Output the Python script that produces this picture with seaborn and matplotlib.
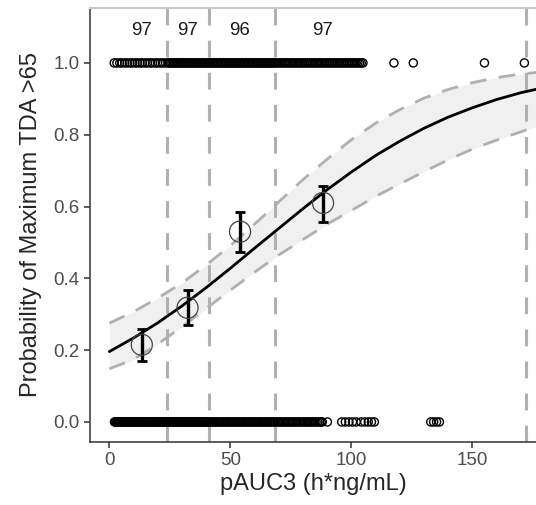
import numpy as np
import pandas as pd
import seaborn as sns
import matplotlib.pyplot as plt

x_resp1 = [2.0, 3.1, 4.3, 5.2, 6.4, 7.3, 8.5, 9.4, 10.6, 11.5, 12.7, 13.6, 14.8, 15.7, 16.9,
           17.8, 19.0, 19.9, 21.1, 22.0, 23.2,
           24.2, 24.8, 25.3, 25.9, 26.5, 27.0, 27.6, 28.1, 28.7, 29.3, 29.8, 30.4, 30.9, 31.5,
           32.1, 32.6, 33.2, 33.7, 34.3, 34.9, 35.4, 36.0, 36.5, 37.1, 37.7, 38.2, 38.8, 39.3,
           39.9, 40.5, 41.0,
           41.5, 42.0, 42.6, 43.1, 43.6, 44.2, 44.7, 45.2, 45.8, 46.3, 46.8, 47.4, 47.9, 48.4,
           49.0, 49.5, 50.0, 50.6, 51.1, 51.6, 52.2, 52.7, 53.2, 53.8, 54.3, 54.8, 55.4, 55.9,
           56.4, 57.0, 57.5, 58.0, 58.6, 59.1, 59.6, 60.2, 60.7, 61.2, 61.8, 62.3, 62.8, 63.4,
           63.9, 64.4, 65.0, 65.5, 66.0, 66.6, 67.1, 67.6, 68.2,
           68.8, 69.5, 70.2, 70.9, 71.6, 72.3, 73.0, 73.6, 74.3, 75.0, 75.7, 76.4, 77.1, 77.8,
           78.5, 79.2, 79.9, 80.6, 81.3, 82.0, 82.6, 83.3, 84.0, 84.7, 85.4, 86.1, 86.8, 87.5,
           88.2, 88.9, 89.6, 90.3, 91.0, 91.6, 92.3, 93.0, 93.7, 94.4, 95.1, 95.8, 96.5, 97.2,
           97.9, 98.6, 99.3, 100.0, 100.6, 101.3, 102.0, 102.7, 103.4, 104.1, 104.8,
           117.6, 125.6, 155.0, 171.5]
# raw observations with response 0
x_resp0 = [2.1, 2.5, 2.9, 3.3, 3.7, 4.1, 4.5, 4.9, 5.3, 5.7, 6.1, 6.5, 6.9, 7.3, 7.7, 8.1, 8.5,
           8.9, 9.3, 9.7, 10.1, 10.5, 10.9, 11.3, 11.7, 12.1, 12.5, 12.9, 13.3, 13.7, 14.1, 14.5,
           14.9, 15.3, 15.7, 16.1, 16.5, 16.9, 17.3, 17.7, 18.1, 18.5, 18.9, 19.3, 19.7, 20.1,
           20.5, 20.9, 21.3, 21.7, 22.1, 22.5, 22.9, 23.3, 23.7,
           24.1, 24.5, 24.9, 25.3, 25.7, 26.1, 26.5, 26.9, 27.3, 27.7, 28.1, 28.5, 28.9, 29.3,
           29.7, 30.1, 30.5, 30.9, 31.3, 31.7, 32.1, 32.5, 32.9, 33.3, 33.7, 34.1, 34.5, 34.9,
           35.3, 35.7, 36.1, 36.5, 36.9, 37.3, 37.7, 38.1, 38.5, 38.9, 39.3, 39.7, 40.1, 40.5,
           40.9,
           41.5, 42.1, 42.7, 43.3, 43.9, 44.5, 45.1, 45.7, 46.3, 46.9, 47.5, 48.1, 48.7, 49.3,
           49.9, 50.5, 51.1, 51.7, 52.3, 52.9, 53.5, 54.1, 54.7, 55.3, 55.9, 56.5, 57.1, 57.7,
           58.3, 58.9, 59.5, 60.1, 60.7, 61.3, 61.9, 62.5, 63.1, 63.7, 64.3, 64.9, 65.5, 66.1,
           66.7, 67.3, 67.9,
           68.6, 69.3, 70.0, 70.7, 71.4, 72.1, 72.8, 73.5, 74.2, 74.9, 75.6, 76.3, 77.0, 77.7,
           78.4, 79.1, 79.8, 80.5, 81.2, 81.9, 82.6, 83.3, 84.0, 84.7, 85.4, 86.1, 86.8, 87.5,
           88.0, 90.1, 96.0, 97.5, 99.0, 100.5, 102.0, 104.0, 105.5, 107.0, 108.3, 109.5,
           132.8, 134.0, 135.2, 136.4]

# quartile bins
cut_points = [24.0, 41.3, 68.5, 172.1]
bin_x = [13.4, 32.3, 54.0, 88.3]
bin_p = [0.215, 0.318, 0.530, 0.610]
bin_lo = [0.170, 0.270, 0.474, 0.556]
bin_hi = [0.258, 0.368, 0.585, 0.658]
bin_n = ["97", "97", "96", "97"]

# fitted logistic curve and its confidence band
fit_x = [0, 10, 20, 30, 40, 50, 60, 70, 80, 90, 100, 110, 120, 130, 140, 150, 160, 170, 180]
fit_p = [0.196, 0.234, 0.276, 0.323, 0.374, 0.428, 0.484, 0.539, 0.594, 0.647, 0.696, 0.742,
         0.782, 0.818, 0.849, 0.875, 0.898, 0.917, 0.932]
fit_hi = [0.275, 0.307, 0.345, 0.387, 0.437, 0.491, 0.551, 0.613, 0.675, 0.732, 0.786, 0.832,
          0.870, 0.902, 0.926, 0.945, 0.959, 0.969, 0.976]
fit_lo = [0.148, 0.174, 0.217, 0.265, 0.316, 0.367, 0.417, 0.465, 0.508, 0.551, 0.589, 0.628,
          0.663, 0.697, 0.730, 0.760, 0.785, 0.808, 0.832]

sns.set_style("ticks")
plt.rcParams["font.family"] = ["Liberation Sans", "DejaVu Sans"]

raw = pd.DataFrame({"x": x_resp1 + x_resp0,
                    "y": [1.0] * len(x_resp1) + [0.0] * len(x_resp0)})
fit = pd.DataFrame({"x": fit_x, "p": fit_p, "lo": fit_lo, "hi": fit_hi})
bins = pd.DataFrame({"x": bin_x, "p": bin_p, "lo": bin_lo, "hi": bin_hi})

fig = plt.figure(figsize=(5.36, 5.05), dpi=100)
ax = fig.add_axes([90 / 536, 63.3 / 505, 1 - 90 / 536, (441.7 - 8) / 505])

grey = "#b0b0b0"
ax.fill_between(fit["x"], fit["lo"], fit["hi"], color="#f0f0f0", lw=0, zorder=1)
for c in ["lo", "hi"]:
    sns.lineplot(data=fit, x="x", y=c, ax=ax, color=grey, lw=2.0,
                 dashes=False, zorder=2).lines[-1].set_dashes((6, 4.5))
for xc in cut_points:
    ax.axvline(xc, color=grey, lw=2.2, dashes=(5.5, 5), zorder=2)

sns.lineplot(data=fit, x="x", y="p", ax=ax, color="black", lw=2.0, zorder=3)

sns.scatterplot(data=raw, x="x", y="y", ax=ax, marker="o", s=34, facecolor="none",
                edgecolor="black", linewidth=1.0, zorder=4)

ax.errorbar(bins["x"], bins["p"],
            yerr=[bins["p"] - bins["lo"], bins["hi"] - bins["p"]],
            fmt="none", ecolor="black", elinewidth=2.4, capsize=3.5, capthick=2, zorder=5)
sns.scatterplot(data=bins, x="x", y="p", ax=ax, marker="o", s=230, facecolor="none",
                edgecolor="#444444", linewidth=0.9, zorder=6)

for bx, n in zip(bin_x, bin_n):
    ax.text(bx, 1.09, n, ha="center", va="center", fontsize=13.5, color="#1a1a1a")

ax.set_xlim(-8, 176.3)
ax.set_ylim(-0.055, 1.153)
ax.set_xticks([0, 50, 100, 150])
ax.set_yticks([0.0, 0.2, 0.4, 0.6, 0.8, 1.0])
ax.set_yticklabels(["0.0", "0.2", "0.4", "0.6", "0.8", "1.0"])
ax.tick_params(labelsize=13.5, labelcolor="#4d4d4d", color="#333333", length=4, width=1.1)
ax.set_xlabel("pAUC3 (h*ng/mL)", fontsize=17, labelpad=3)
ax.set_ylabel("Probability of Maximum TDA >65", fontsize=17, labelpad=8)

for s in ["left", "bottom"]:
    ax.spines[s].set_color("#333333")
    ax.spines[s].set_linewidth(1.1)
ax.spines["top"].set_color("#c8c8c8")
ax.spines["top"].set_linewidth(1.5)
ax.spines["right"].set_visible(False)

plt.savefig("out.png", dpi=100)
